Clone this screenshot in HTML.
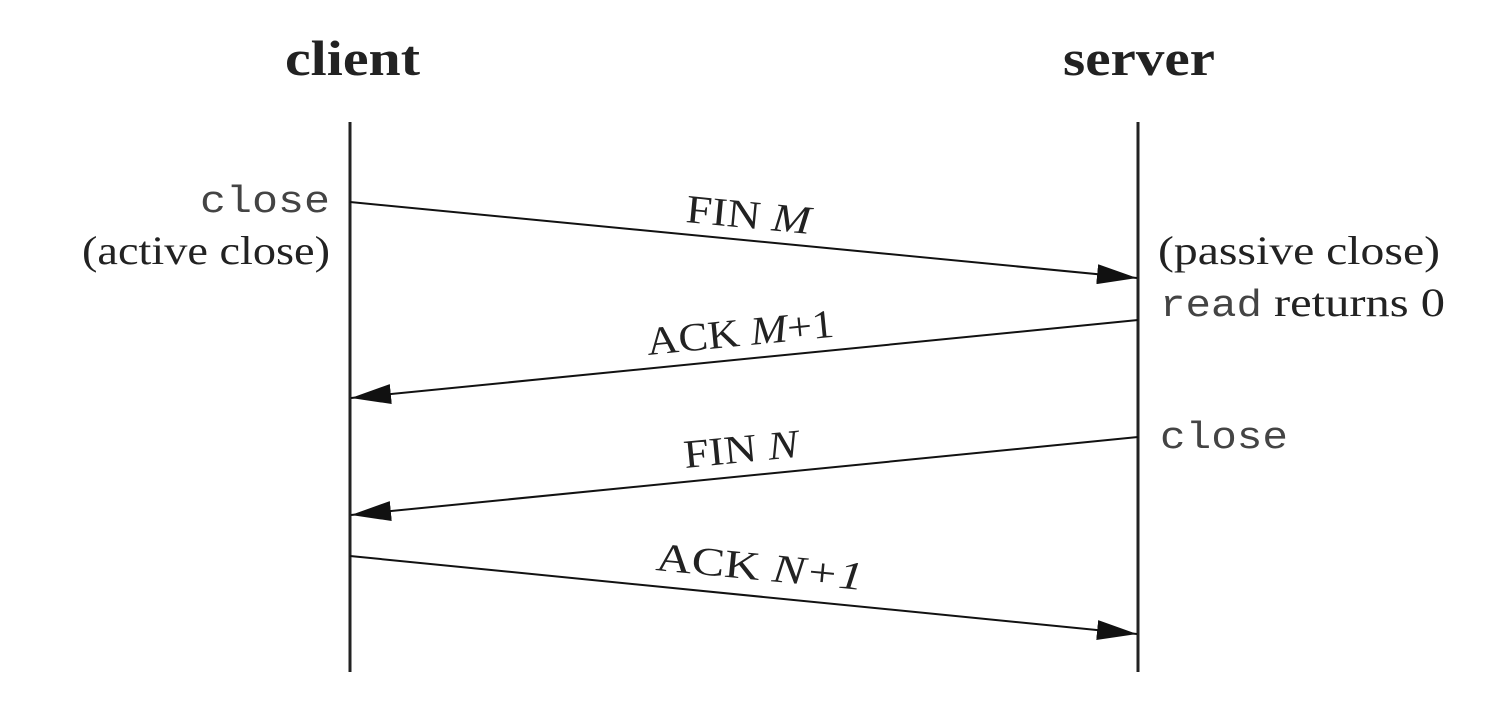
<!DOCTYPE html>
<html><head><style>
html,body{margin:0;padding:0;background:#fff;}
svg{display:block;}
.s{font-family:"Liberation Serif",serif;fill:#222;}
.m{font-family:"Liberation Mono",monospace;fill:#444;}
</style></head><body>
<svg width="1500" height="710" viewBox="0 0 1500 710" xmlns="http://www.w3.org/2000/svg">
<defs>
<marker id="a" markerWidth="40" markerHeight="20" refX="40" refY="10" orient="auto" markerUnits="userSpaceOnUse">
<path d="M0,0 L40,10 L0,20 Z" fill="#111"/>
</marker>
</defs>
<text class="s" x="285" y="75" font-size="50" font-weight="bold" textLength="135" lengthAdjust="spacingAndGlyphs">client</text>
<text class="s" x="1063" y="75" font-size="50" font-weight="bold" textLength="152" lengthAdjust="spacingAndGlyphs">server</text>
<line x1="350" y1="122" x2="350" y2="672" stroke="#222" stroke-width="3"/>
<line x1="1138" y1="122" x2="1138" y2="672" stroke="#222" stroke-width="3"/>
<line x1="350" y1="202" x2="1137" y2="278" stroke="#111" stroke-width="2" marker-end="url(#a)"/>
<line x1="1138" y1="320" x2="351" y2="398" stroke="#111" stroke-width="2" marker-end="url(#a)"/>
<line x1="1138" y1="437" x2="351" y2="515" stroke="#111" stroke-width="2" marker-end="url(#a)"/>
<line x1="350" y1="556" x2="1137" y2="634" stroke="#111" stroke-width="2" marker-end="url(#a)"/>
<text class="m" x="200" y="212" font-size="38" textLength="130" lengthAdjust="spacingAndGlyphs">close</text>
<text class="s" x="82" y="264" font-size="40" textLength="248" lengthAdjust="spacingAndGlyphs">(active close)</text>
<text class="s" x="1158" y="264" font-size="40" textLength="282" lengthAdjust="spacingAndGlyphs">(passive close)</text>
<text class="m" x="1160" y="316" font-size="38" textLength="102" lengthAdjust="spacingAndGlyphs">read</text>
<text class="s" x="1274" y="316" font-size="40" textLength="171" lengthAdjust="spacingAndGlyphs">returns 0</text>
<text class="m" x="1160" y="448" font-size="38" textLength="128" lengthAdjust="spacingAndGlyphs">close</text>
<text class="s" font-size="40" transform="translate(685,222) rotate(5.5)" textLength="125" lengthAdjust="spacingAndGlyphs">FIN <tspan font-style="italic">M</tspan></text>
<text class="s" font-size="40" transform="translate(648,355) rotate(-5.6)" textLength="188" lengthAdjust="spacingAndGlyphs">ACK <tspan font-style="italic">M</tspan>+1</text>
<text class="s" font-size="40" transform="translate(685,468) rotate(-5.6)" textLength="115" lengthAdjust="spacingAndGlyphs">FIN <tspan font-style="italic">N</tspan></text>
<text class="s" font-size="40" transform="translate(655,570) rotate(5.5)" textLength="208" lengthAdjust="spacingAndGlyphs">ACK <tspan font-style="italic">N+1</tspan></text>
</svg>
</body></html>
